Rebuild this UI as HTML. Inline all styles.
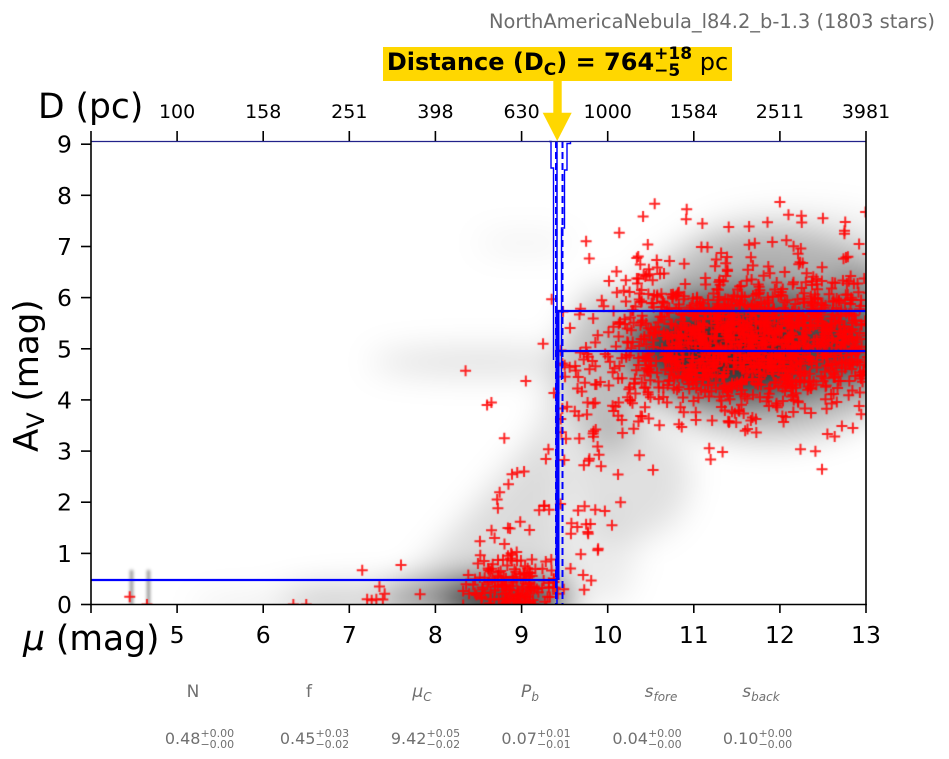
<!DOCTYPE html>
<html><head><meta charset="utf-8">
<style>
html,body{margin:0;padding:0;background:#fff;}
body{width:949px;height:759px;position:relative;overflow:hidden;font-family:"DejaVu Sans","Liberation Sans",sans-serif;}
svg,canvas{position:absolute;left:0;top:0;}
</style></head><body>

<svg width="949" height="759" xmlns="http://www.w3.org/2000/svg">
  <defs>
    <clipPath id="ax"><rect x="91" y="141" width="775" height="463"/></clipPath>
    <filter id="bl" filterUnits="userSpaceOnUse" x="0" y="0" width="949" height="759"><feGaussianBlur stdDeviation="16"/></filter>
    <filter id="bs" filterUnits="userSpaceOnUse" x="0" y="0" width="949" height="759"><feGaussianBlur stdDeviation="1.5"/></filter>
  </defs>
  <g clip-path="url(#ax)">
    <g filter="url(#bl)" fill="#000">
      <ellipse cx="505" cy="600" rx="65" ry="22" fill-opacity="0.75"/>
      <ellipse cx="440" cy="598" rx="60" ry="15" fill-opacity="0.35"/>
      <ellipse cx="360" cy="600" rx="80" ry="14" fill-opacity="0.2"/>
      <ellipse cx="270" cy="606" rx="80" ry="10" fill-opacity="0.08"/>
      <polygon points="390,604 540,430 565,320 565,604" fill-opacity="0.14"/>
      <ellipse cx="480" cy="362" rx="110" ry="12" fill-opacity="0.14"/>
      <ellipse cx="525" cy="243" rx="50" ry="8" fill-opacity="0.07"/>
      <ellipse cx="770" cy="335" rx="150" ry="105" fill-opacity="0.25"/>
      <ellipse cx="750" cy="345" rx="120" ry="60" fill-opacity="0.5"/>
      <ellipse cx="730" cy="350" rx="80" ry="40" fill-opacity="0.45"/>
      <ellipse cx="860" cy="330" rx="45" ry="60" fill-opacity="0.3"/>
      <ellipse cx="800" cy="245" rx="110" ry="35" fill-opacity="0.08"/>
      <ellipse cx="605" cy="370" rx="40" ry="80" fill-opacity="0.25"/>
      <ellipse cx="630" cy="480" rx="60" ry="60" fill-opacity="0.12"/>
      <ellipse cx="600" cy="560" rx="35" ry="45" fill-opacity="0.08"/>
    </g>
    <g filter="url(#bs)" fill="#000">
      <rect x="130" y="570" width="3" height="36" fill-opacity="0.45"/>
      <rect x="147" y="570" width="3" height="36" fill-opacity="0.45"/>
    </g>
  </g>
</svg>

<canvas id="c" width="775" height="463" style="left:91px;top:141px"></canvas>

<svg width="949" height="759" xmlns="http://www.w3.org/2000/svg" font-family="DejaVu Sans, Liberation Sans, sans-serif">
  <g fill="none" stroke="#0000ff">
    <line x1="91" y1="580" x2="557" y2="580" stroke-width="2.2"/>
    <line x1="556" y1="311" x2="866" y2="311" stroke-width="2.2"/>
    <line x1="558" y1="351" x2="866" y2="351" stroke-width="2.2"/>
    <line x1="557.5" y1="310" x2="557.5" y2="580" stroke-width="4"/>
    <line x1="557" y1="141" x2="557" y2="604" stroke-width="1.5"/>
    <line x1="556" y1="141" x2="556" y2="604" stroke-width="2" stroke-dasharray="7,4"/>
    <line x1="562.5" y1="141" x2="562.5" y2="604" stroke-width="2" stroke-dasharray="7,4"/>
    <path d="M549,141.5 H551 V168 H553.5 V360 M570.5,141.5 V143.5 H567 V170 H564.5 V228 H561.5 V380" stroke-width="1.4"/>
  </g>
  <line x1="91" y1="141.5" x2="866" y2="141.5" stroke="#22228a" stroke-width="1.3"/>
  <g stroke="#000" stroke-width="1.6" fill="none">
    <line x1="91" y1="131" x2="91" y2="605"/>
    <line x1="90.2" y1="604.5" x2="866.8" y2="604.5"/>
    <line x1="866" y1="131" x2="866" y2="605"/>
    <line x1="81" y1="604.5" x2="91" y2="604.5"/>
    <line x1="81" y1="553.4" x2="91" y2="553.4"/>
    <line x1="81" y1="502.2" x2="91" y2="502.2"/>
    <line x1="81" y1="451.1" x2="91" y2="451.1"/>
    <line x1="81" y1="399.9" x2="91" y2="399.9"/>
    <line x1="81" y1="348.8" x2="91" y2="348.8"/>
    <line x1="81" y1="297.6" x2="91" y2="297.6"/>
    <line x1="81" y1="246.5" x2="91" y2="246.5"/>
    <line x1="81" y1="195.3" x2="91" y2="195.3"/>
    <line x1="81" y1="144.2" x2="91" y2="144.2"/>
    <line x1="91" y1="604" x2="91" y2="613"/>
    <line x1="177.1" y1="604" x2="177.1" y2="613"/>
    <line x1="263.2" y1="604" x2="263.2" y2="613"/>
    <line x1="349.3" y1="604" x2="349.3" y2="613"/>
    <line x1="435.4" y1="604" x2="435.4" y2="613"/>
    <line x1="521.6" y1="604" x2="521.6" y2="613"/>
    <line x1="607.7" y1="604" x2="607.7" y2="613"/>
    <line x1="693.8" y1="604" x2="693.8" y2="613"/>
    <line x1="779.9" y1="604" x2="779.9" y2="613"/>
    <line x1="866" y1="604" x2="866" y2="613"/>
    <line x1="177.1" y1="131" x2="177.1" y2="141"/>
    <line x1="263.2" y1="131" x2="263.2" y2="141"/>
    <line x1="349.3" y1="131" x2="349.3" y2="141"/>
    <line x1="435.4" y1="131" x2="435.4" y2="141"/>
    <line x1="521.6" y1="131" x2="521.6" y2="141"/>
    <line x1="607.7" y1="131" x2="607.7" y2="141"/>
    <line x1="693.8" y1="131" x2="693.8" y2="141"/>
    <line x1="779.9" y1="131" x2="779.9" y2="141"/>
  </g>

  <g font-size="23.5" text-anchor="end" fill="#000">
    <text x="72" y="613">0</text>
    <text x="72" y="562">1</text>
    <text x="72" y="510.7">2</text>
    <text x="72" y="459.6">3</text>
    <text x="72" y="408.4">4</text>
    <text x="72" y="357.3">5</text>
    <text x="72" y="306.1">6</text>
    <text x="72" y="255">7</text>
    <text x="72" y="203.8">8</text>
    <text x="72" y="152.7">9</text>
  </g>
  <g font-size="23.5" text-anchor="middle" fill="#000">
    <text x="177.1" y="643">5</text>
    <text x="263.2" y="643">6</text>
    <text x="349.3" y="643">7</text>
    <text x="435.4" y="643">8</text>
    <text x="521.6" y="643">9</text>
    <text x="607.7" y="643">10</text>
    <text x="693.8" y="643">11</text>
    <text x="779.9" y="643">12</text>
    <text x="866" y="643">13</text>
  </g>
  <g font-size="19" text-anchor="middle" fill="#000">
    <text x="177.1" y="118">100</text>
    <text x="263.2" y="118">158</text>
    <text x="349.3" y="118">251</text>
    <text x="435.4" y="118">398</text>
    <text x="521.6" y="118">630</text>
    <text x="607.7" y="118">1000</text>
    <text x="693.8" y="118">1584</text>
    <text x="779.9" y="118">2511</text>
    <text x="866" y="118">3981</text>
  </g>

  <text x="38" y="118" font-size="34.5" fill="#000">D (pc)</text>
  <text x="23" y="650" font-size="34.5" fill="#000"><tspan font-style="italic">μ</tspan> (mag)</text>
  <text transform="translate(38,452) rotate(-90)" font-size="34" fill="#000">A<tspan font-size="24" dy="6">V</tspan><tspan dy="-6"> (mag)</tspan></text>

  <text x="935" y="28" text-anchor="end" font-size="19.5" fill="#6b6b6b" textLength="446" lengthAdjust="spacingAndGlyphs">NorthAmericaNebula_l84.2_b-1.3 (1803 stars)</text>

  <rect x="383" y="47" width="349" height="34" fill="#ffd700"/>
  <rect x="553.3" y="81" width="8.4" height="32" fill="#ffd700"/>
  <polygon points="542.7,112.7 571.7,112.7 557.2,141" fill="#ffd700"/>
  <text x="557.5" y="70" text-anchor="middle" font-size="24" font-weight="bold" fill="#000">Distance (D<tspan font-size="17" dy="5">C</tspan><tspan dy="-5">) = 764</tspan><tspan font-size="17" dy="-11">+18</tspan><tspan font-size="17" dx="-37.9" dy="17">−5</tspan><tspan font-weight="normal" dx="19.5" dy="-6">pc</tspan></text>

  <g fill="#707070" font-size="17" text-anchor="middle">
    <text x="193" y="697">N</text>
    <text x="309" y="697">f</text>
    <text x="422" y="697"><tspan font-style="italic">μ</tspan><tspan font-style="italic" font-size="12" dy="4">C</tspan></text>
    <text x="530" y="697"><tspan font-style="italic">P</tspan><tspan font-style="italic" font-size="12" dy="4">b</tspan></text>
    <text x="661" y="697"><tspan font-style="italic">s</tspan><tspan font-style="italic" font-size="12" dy="4">fore</tspan></text>
    <text x="761" y="697"><tspan font-style="italic">s</tspan><tspan font-style="italic" font-size="12" dy="4">back</tspan></text>
  </g>
  <g fill="#707070" font-size="16" text-anchor="middle">
    <text x="199.5" y="744">0.48<tspan font-size="11" dy="-7">+0.00</tspan><tspan font-size="11" dx="-33.7" dy="11">−0.00</tspan></text>
    <text x="314.5" y="744">0.45<tspan font-size="11" dy="-7">+0.03</tspan><tspan font-size="11" dx="-33.7" dy="11">−0.02</tspan></text>
    <text x="425.5" y="744">9.42<tspan font-size="11" dy="-7">+0.05</tspan><tspan font-size="11" dx="-33.7" dy="11">−0.02</tspan></text>
    <text x="536" y="744">0.07<tspan font-size="11" dy="-7">+0.01</tspan><tspan font-size="11" dx="-33.7" dy="11">−0.01</tspan></text>
    <text x="647" y="744">0.04<tspan font-size="11" dy="-7">+0.00</tspan><tspan font-size="11" dx="-33.7" dy="11">−0.00</tspan></text>
    <text x="757.5" y="744">0.10<tspan font-size="11" dy="-7">+0.00</tspan><tspan font-size="11" dx="-33.7" dy="11">−0.00</tspan></text>
  </g>
</svg>

<script>
(function(){
var cv=document.getElementById('c');if(!cv||!cv.getContext)return;var ctx=cv.getContext('2d');
var s=20240611;
function R(){s|=0;s=s+0x6D2B79F5|0;var t=Math.imul(s^s>>>15,1|s);t=t+Math.imul(t^t>>>7,61|t)^t;return((t^t>>>14)>>>0)/4294967296;}
function G(){var u=R();if(u<1e-9)u=1e-9;return Math.sqrt(-2*Math.log(u))*Math.cos(6.283185307*R());}
var P=[],i,m,a;
for(i=0;i<1400;i++){do{m=11.65+1.0*G();}while(m<9.45||m>13.2);
 var mean=5.1,sd=0.68;if(m<10.6){mean=5.1-0.6*(10.6-m);sd=0.95;}
 a=mean+sd*G();P.push([m,a]);}
for(i=0;i<14;i++){P.push([10.6+R()*2.4,6.6+R()*1.2]);}
for(i=0;i<22;i++){P.push([9.45+R()*0.45,R()*3.5]);}
for(i=0;i<30;i++){m=8.5+R()*0.92;a=0.8+R()*(m-8.3)*3.3;P.push([m,a]);}
for(i=0;i<170;i++){do{m=8.95+0.3*G();}while(m<7.9||m>9.42);a=0.28+0.3*G();P.push([m,a]);}
for(i=0;i<6;i++){P.push([7.0+R()*1.0,R()*0.6-0.1]);}
var X=[[4.45,0.15],[4.65,0.0],[6.35,0.0],[6.5,0.0],[7.15,0.67],[7.35,0.35],[7.6,0.77],[8.35,4.57],[8.6,3.9],[8.65,3.95],[8.8,3.25],[9.05,4.37],[9.25,5.1],[9.35,5.97],[9.75,7.1],[12.0,7.87],[12.1,7.62],[11.1,7.45],[12.25,7.6],[12.5,7.55],[12.75,7.25],[12.92,7.05],[10.15,2.0],[10.05,1.55],[9.75,1.57]];
P=P.concat(X);
ctx.strokeStyle='rgba(255,0,0,0.85)';ctx.lineWidth=2;
for(i=0;i<P.length;i++){var x=(P[i][0]-4)*86.11,y=463.5-51.15*P[i][1];
 ctx.beginPath();ctx.moveTo(x-5.5,y);ctx.lineTo(x+5.5,y);ctx.moveTo(x,y-5.5);ctx.lineTo(x,y+5.5);ctx.stroke();}
})();
</script>
</body></html>
